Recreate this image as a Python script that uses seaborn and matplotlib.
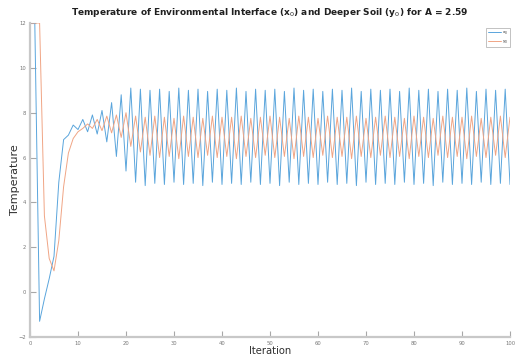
import matplotlib
matplotlib.use("Agg")
import matplotlib.pyplot as plt
import seaborn as sns
import pandas as pd

# ---- data ----
iterations = list(range(0, 101))

x0_values = [
    12.0, 12.0, -1.3, -0.3, 0.6, 1.6, 4.9, 6.8, 7.0, 7.45, 7.25, 7.7, 7.15, 7.9,
    7.05, 8.1, 6.7, 8.45, 6.05, 8.8, 5.4, 9.1, 4.9,
    9.05, 4.75, 9.0, 4.85, 9.05, 4.8, 8.95, 4.9, 9.1, 4.8, 9.0, 4.85, 9.05, 4.75,
    8.95, 4.9, 9.05, 4.8, 9.0, 4.85, 9.1, 4.8, 8.95, 4.9, 9.05, 4.8, 9.0, 4.85,
    9.05, 4.75, 8.95, 4.9, 9.1, 4.8, 9.0, 4.85, 9.05, 4.8, 8.95, 4.9, 9.05, 4.8,
    9.0, 4.85, 9.1, 4.75, 8.95, 4.9, 9.05, 4.8, 9.0, 4.85, 9.05, 4.8, 8.95, 4.9,
    9.1, 4.8, 9.0, 4.85, 9.05, 4.75, 8.95, 4.9, 9.05, 4.8, 9.0, 4.85, 9.1, 4.8,
    8.95, 4.9, 9.05, 4.8, 9.0, 4.85, 9.05, 4.8,
]

y0_values = [
    12.0, 12.0, 12.0, 3.4, 1.5, 0.95, 2.3, 4.7, 6.2, 6.85, 7.15, 7.3, 7.5, 7.3,
    7.7, 7.2, 7.85, 7.1, 7.9, 6.9, 8.0, 6.5, 7.85,
    6.25, 7.8, 6.1, 7.85, 6.0, 7.8, 6.05, 7.75, 5.95, 7.85, 6.05, 7.8, 6.0, 7.75,
    6.1, 7.85, 6.0, 7.8, 6.05, 7.8, 5.95, 7.85, 6.05, 7.75, 6.0, 7.8, 6.1, 7.85,
    6.0, 7.8, 6.05, 7.75, 5.95, 7.85, 6.05, 7.8, 6.0, 7.75, 6.1, 7.85, 6.0, 7.8,
    6.05, 7.8, 5.95, 7.85, 6.05, 7.75, 6.0, 7.8, 6.1, 7.85, 6.0, 7.8, 6.05, 7.75,
    5.95, 7.85, 6.05, 7.8, 6.0, 7.75, 6.1, 7.85, 6.0, 7.8, 6.05, 7.8, 5.95, 7.85,
    6.05, 7.75, 6.0, 7.8, 6.1, 7.85, 6.0, 7.8,
]

series_labels = ["x$_0$", "y$_0$"]
x_ticks = list(range(0, 101, 10))
y_ticks = list(range(-2, 13, 2))

# ---- styling ----
sns.set_style("ticks")
plt.rcParams["font.family"] = ["DejaVu Sans"]

n = len(iterations)
df = pd.DataFrame({
    "Iteration": iterations + iterations,
    "Temperature": x0_values + y0_values,
    "series": [series_labels[0]] * n + [series_labels[1]] * n,
})

fig = plt.figure(figsize=(5.15, 3.62), dpi=100)
ax = fig.add_axes([30 / 515, 1 - 337 / 362, 480 / 515, 314 / 362])

sns.lineplot(data=df, x="Iteration", y="Temperature", hue="series",
             palette=["#5aa5dc", "#f0a585"], linewidth=0.7, ax=ax)

ax.set_xlim(0, 100)
ax.set_ylim(-2, 12)
ax.set_xticks(x_ticks)
ax.set_yticks(y_ticks)

for side in ["top", "right"]:
    ax.spines[side].set_visible(False)
for side in ["left", "bottom"]:
    ax.spines[side].set_color("#c8c8c8")
    ax.spines[side].set_linewidth(1.6)

ax.tick_params(direction="in", length=4.5, width=0.8, color="#a8a8a8",
               labelsize=3.8, labelcolor="#787878", pad=3)

ax.set_title("Temperature of Environmental Interface (x$_0$) and Deeper Soil (y$_0$) for A = 2.59",
             fontsize=6.5, fontweight="bold", color="#202020", pad=5.5)
ax.set_xlabel("Iteration", fontsize=7.2, color="#303030")
ax.set_ylabel("Temperature", fontsize=8, color="#303030")
ax.xaxis.set_label_coords(0.5, -0.028)
ax.yaxis.set_label_coords(-0.021, 0.5)

leg = ax.legend(loc="upper right", bbox_to_anchor=(1.0, 0.984), fontsize=3,
                handlelength=3.2, handletextpad=0.3, borderpad=0.35,
                labelspacing=0.25, frameon=True, fancybox=False,
                framealpha=1, edgecolor="#b8b8b8", borderaxespad=0)
leg.get_frame().set_linewidth(0.6)

fig.savefig("out.png", dpi=100)
